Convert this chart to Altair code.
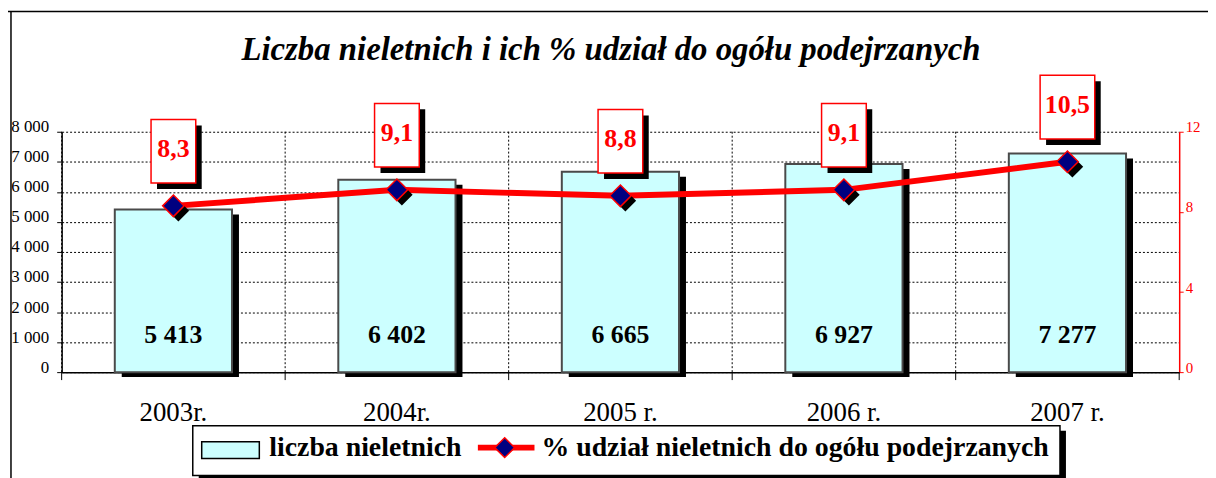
import altair as alt
import pandas as pd

# ---------------- data ----------------
years = ["2003r.", "2004r.", "2005 r.", "2006 r.", "2007 r."]
counts = [5413, 6402, 6665, 6927, 7277]
shares = [8.3, 9.1, 8.8, 9.1, 10.5]
left_ticks = [0, 1000, 2000, 3000, 4000, 5000, 6000, 7000, 8000]
right_ticks = [0, 4, 8, 12]
title_text = "Liczba nieletnich i ich % udział do ogółu podejrzanych"
legend_bar_text = "liczba nieletnich"
legend_line_text = "% udział nieletnich do ogółu podejrzanych"

df = pd.DataFrame({"year": years, "n": counts, "pct": shares})
one = pd.DataFrame({"k": [0]})

FONT = "Liberation Serif"
W, H = 1125, 242
RED = "#FF0000"
NAVY = "#000080"
CYAN = "#CCFFFF"

x_axis = alt.Axis(title=None, labelFont=FONT, labelFontSize=27, labelColor="black",
                  labelAngle=0, ticks=False, tickSize=0, domain=True, domainColor="black",
                  domainWidth=1.5, labelPadding=49, labelBaseline="alphabetic", grid=False)
x_scale = alt.Scale(paddingInner=0, paddingOuter=0)


def X(**kw):
    return alt.X("year:N", sort=years, scale=x_scale, axis=x_axis, **kw)


cscale = alt.Scale(domain=[0, 8000], nice=False, zero=True)
pscale = alt.Scale(domain=[0, 12], nice=False, zero=True)

left_axis = alt.Axis(orient="left", values=left_ticks, title=None,
                     labelExpr="replace(format(datum.value, ','), ',', ' ')",
                     labelFont=FONT, labelFontSize=17, labelColor="black",
                     labelBaseline="alphabetic", labelPadding=8, tickSize=5,
                     tickColor="black", domainColor="black", domainWidth=1.5,
                     grid=True, gridColor="black", gridDash=[2, 2], gridWidth=1)
right_axis = alt.Axis(orient="right", values=right_ticks, title=None,
                      labelFont=FONT, labelFontSize=15, labelColor=RED,
                      labelBaseline="alphabetic", labelPadding=2, tickSize=4,
                      tickColor=RED, domainColor=RED, domainWidth=1.5, grid=False)

base = alt.Chart(df)
deco = alt.Chart(one)

# vertical dotted gridlines at category boundaries + ticks below axis
vgrid = base.mark_rule(color="black", strokeDash=[2, 2], strokeWidth=1).encode(
    x=X(bandPosition=0), y=alt.value(0), y2=alt.value(H))
vticks = base.mark_rule(color="black", strokeWidth=1).encode(
    x=X(bandPosition=0), y=alt.value(H), y2=alt.value(H + 8))
vtick_end = deco.mark_rule(color="black", strokeWidth=1).encode(
    x=alt.value(W), y=alt.value(H), y2=alt.value(H + 8))

bar_shadow = base.mark_bar(width=118, color="black", xOffset=7, yOffset=5).encode(
    x=X(), y=alt.Y("n:Q", scale=cscale, axis=None))
bars = base.mark_bar(width=118, fill=CYAN, stroke="#4a4a4a", strokeWidth=2).encode(
    x=X(), y=alt.Y("n:Q", scale=cscale, axis=left_axis))
bar_labels = base.transform_calculate(
    lab="replace(format(datum.n, ','), ',', ' ')"
).mark_text(font=FONT, fontSize=26, fontWeight="bold", color="black", baseline="middle").encode(
    x=X(), y=alt.value(205), text="lab:N")

line = base.mark_line(color=RED, strokeWidth=6).encode(
    x=X(), y=alt.Y("pct:Q", scale=pscale, axis=right_axis))
dia_shadow = base.mark_point(shape="diamond", filled=True, size=470, color="black",
                             opacity=1, xOffset=5, yOffset=5).encode(
    x=X(), y=alt.Y("pct:Q", scale=pscale, axis=None))
dia = base.mark_point(shape="diamond", filled=True, size=470, fill=NAVY, stroke=RED,
                      strokeWidth=1.5, opacity=1).encode(
    x=X(), y=alt.Y("pct:Q", scale=pscale, axis=None))

pct_base = base.transform_calculate(lab="replace(format(datum.pct, '.1f'), '.', ',')")


def box_layers(filt, w):
    src = pct_base.transform_filter(filt)
    shadow = src.mark_bar(width=w, color="black", xOffset=6, yOffset=-17, y2Offset=-81).encode(
        x=X(), y=alt.Y("pct:Q", scale=pscale, axis=None), y2="pct:Q")
    box = src.mark_bar(width=w, fill="white", stroke=RED, strokeWidth=1.5,
                       yOffset=-23, y2Offset=-87).encode(
        x=X(), y=alt.Y("pct:Q", scale=pscale, axis=None), y2="pct:Q")
    return [shadow, box]


boxes = box_layers("length(datum.lab) < 4", 45) + box_layers("length(datum.lab) >= 4", 55)
box_text = pct_base.mark_text(font=FONT, fontSize=26, fontWeight="bold", color=RED,
                              baseline="middle", dy=-57).encode(
    x=X(), y=alt.Y("pct:Q", scale=pscale, axis=None), text="lab:N")

# title and frame
title = deco.mark_text(font=FONT, fontSize=33, fontStyle="italic", fontWeight="bold",
                       color="black", baseline="alphabetic", align="center").encode(
    x=alt.value(553), y=alt.value(-72), text=alt.value(title_text))
frame_top = deco.mark_rule(color="black", strokeWidth=1.5).encode(
    x=alt.value(-58), x2=alt.value(1160), y=alt.value(-121))
frame_left = deco.mark_rule(color="black", strokeWidth=1.5).encode(
    x=alt.value(-51), y=alt.value(-121), y2=alt.value(350))

# legend
leg_shadow = deco.mark_rect(color="black").encode(
    x=alt.value(138), x2=alt.value(1011), y=alt.value(301), y2=alt.value(352))
leg_box = deco.mark_rect(fill="white", stroke="black", strokeWidth=1.5).encode(
    x=alt.value(132), x2=alt.value(1005), y=alt.value(296), y2=alt.value(346))
leg_sw = deco.mark_rect(fill=CYAN, stroke="black", strokeWidth=1.5).encode(
    x=alt.value(141), x2=alt.value(199), y=alt.value(312), y2=alt.value(329))
leg_t1 = deco.mark_text(font=FONT, fontSize=28, fontWeight="bold", color="black",
                        align="left", baseline="alphabetic").encode(
    x=alt.value(209), y=alt.value(326), text=alt.value(legend_bar_text))
leg_line = deco.mark_rule(color=RED, strokeWidth=6).encode(
    x=alt.value(419), x2=alt.value(476), y=alt.value(318))
leg_dia = deco.mark_point(shape="diamond", filled=True, size=400, fill=NAVY, stroke=RED,
                          strokeWidth=1.5, opacity=1).encode(
    x=alt.value(446), y=alt.value(318))
leg_t2 = deco.mark_text(font=FONT, fontSize=28, fontWeight="bold", color="black",
                        align="left", baseline="alphabetic").encode(
    x=alt.value(483), y=alt.value(326), text=alt.value(legend_line_text))

chart = alt.layer(
    vgrid, vticks, vtick_end, bar_shadow, bars, bar_labels, line, dia_shadow, dia,
    *boxes, box_text, title, frame_top, frame_left,
    leg_shadow, leg_box, leg_sw, leg_t1, leg_line, leg_dia, leg_t2,
).resolve_scale(y="independent").properties(
    width=W, height=H,
    padding={"left": 54, "top": 123, "right": 29, "bottom": 105},
    autosize=alt.AutoSizeParams(type="none"),
    background="white",
).configure_view(stroke=None)

chart.save("out.html", embed_options={"renderer": "svg", "actions": False})
